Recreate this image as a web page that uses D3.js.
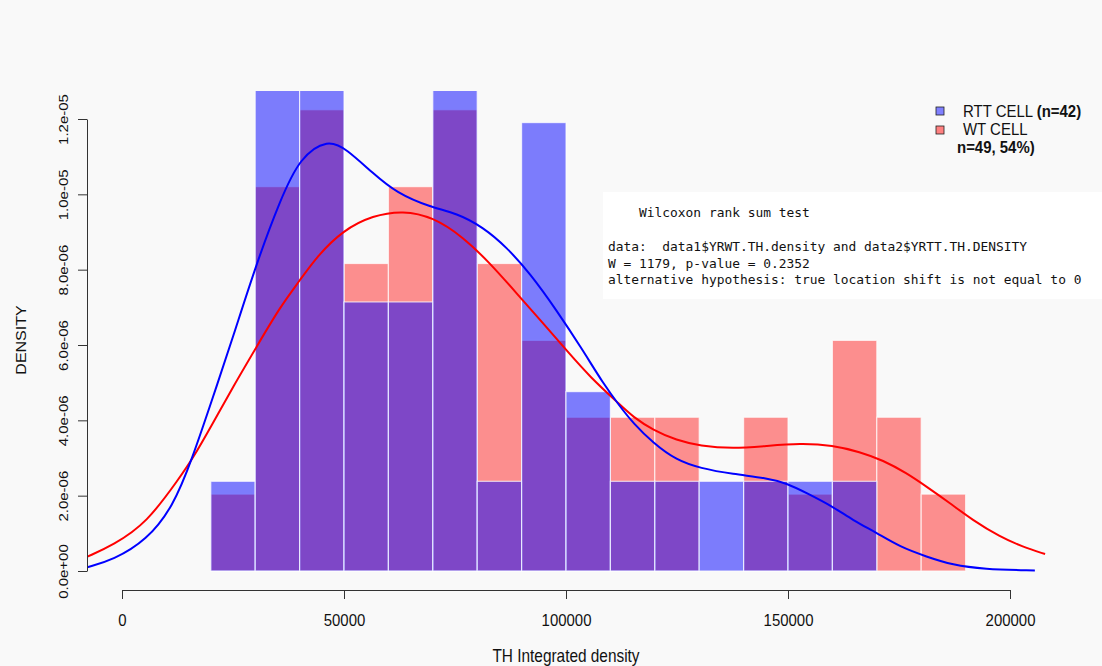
<!DOCTYPE html>
<html>
<head>
<meta charset="utf-8">
<script src="https://cdn.jsdelivr.net/npm/d3@7"></script>
<style>
  body { margin: 0; background: #f9f9f9; }
  svg { display: block; }
</style>
</head>
<body>
<svg id="chart" width="1102" height="666"></svg>
<script>
// ---------------- DATA ----------------
const binStarts = [20000, 30000, 40000, 50000, 60000, 70000, 80000, 90000, 100000,
                   110000, 120000, 130000, 140000, 150000, 160000, 170000, 180000];
const binWidth = 10000;
const rttCounts = [1, 7, 7, 3, 3, 7, 1, 5, 2, 1, 1, 1, 1, 1, 1, 0, 0];   // n = 42
const wtCounts  = [1, 5, 6, 4, 5, 6, 4, 3, 2, 2, 2, 0, 2, 1, 3, 2, 1];   // n = 49
const rttN = 42;
const wtN = 49;

// kernel density curves
const rttCurveX = [-7800, -2000, 5600, 11500, 15700, 20500, 25000, 30300, 35600, 40100,
                   46400, 50600, 56500, 61900, 69400, 75400, 81300, 86600, 91900, 97900,
                   103800, 108300, 112200, 115100, 119600, 124900, 130200, 137600, 145200,
                   149700, 154200, 160100, 164600, 170000, 175200, 181200, 187100, 193900, 205600];
const rttCurveY = [1.0e-7, 2.9e-7, 8.2e-7, 1.71e-6, 2.94e-6, 4.62e-6, 6.21e-6, 8.17e-6, 9.84e-6, 1.099e-5,
                   1.147e-5, 1.12e-5, 1.056e-5, 1.003e-5, 9.66e-6, 9.50e-6, 9.13e-6, 8.60e-6, 7.90e-6, 6.92e-6,
                   5.86e-6, 4.99e-6, 4.36e-6, 3.93e-6, 3.40e-6, 2.94e-6, 2.73e-6, 2.57e-6, 2.47e-6,
                   2.33e-6, 2.07e-6, 1.71e-6, 1.35e-6, 1.01e-6, 6.4e-7, 3.8e-7, 1.6e-7, 5e-8, 1e-8];
const wtCurveX = [-7800, -2000, 5600, 13100, 15700, 20500, 25000, 30300, 35600, 40100,
                  43800, 49800, 56500, 63300, 70000, 76800, 82900, 88900, 94800, 100100,
                  105400, 112200, 115100, 119600, 124900, 130200, 137600, 145200, 152700,
                  160100, 166200, 171400, 176700, 181200, 186500, 191600, 197700, 202900, 207900];
const wtCurveY = [3.8e-7, 6.9e-7, 1.27e-6, 2.50e-6, 2.94e-6, 3.93e-6, 4.89e-6, 5.95e-6, 7.01e-6, 7.72e-6,
                  8.34e-6, 9.05e-6, 9.44e-6, 9.57e-6, 9.40e-6, 8.87e-6, 8.17e-6, 7.37e-6, 6.58e-6, 5.86e-6,
                  5.15e-6, 4.41e-6, 4.09e-6, 3.74e-6, 3.47e-6, 3.32e-6, 3.25e-6, 3.32e-6, 3.39e-6,
                  3.34e-6, 3.16e-6, 2.94e-6, 2.60e-6, 2.24e-6, 1.80e-6, 1.35e-6, 9.1e-7, 6.4e-7, 4.5e-7];

const xTicks = [0, 50000, 100000, 150000, 200000];
const xTickLabels = ["0", "50000", "100000", "150000", "200000"];
const yTicks = [0, 2e-6, 4e-6, 6e-6, 8e-6, 1e-5, 1.2e-5];
const yTickLabels = ["0.0e+00", "2.0e-06", "4.0e-06", "6.0e-06", "8.0e-06", "1.0e-05", "1.2e-05"];
const xTitle = "TH Integrated density";
const yTitle = "DENSITY";
const testLines = [
  "    Wilcoxon rank sum test",
  "",
  "data:  data1$YRWT.TH.density and data2$YRTT.TH.DENSITY",
  "W = 1179, p-value = 0.2352",
  "alternative hypothesis: true location shift is not equal to 0"
];

// ---------------- CHART ----------------
const svg = d3.select("#chart");
const x = d3.scaleLinear().domain([0, 200000]).range([122, 1010]);
const y = d3.scaleLinear().domain([0, 1.2e-5]).range([571, 119]);

svg.append("rect").attr("width", 1102).attr("height", 666).attr("fill", "#f9f9f9");

svg.append("defs").append("clipPath").attr("id", "plotclip")
  .append("rect").attr("x", 87).attr("y", 91).attr("width", 975).attr("height", 490);

const plot = svg.append("g").attr("clip-path", "url(#plotclip)");

function bars(counts, n, fill, op) {
  const data = binStarts.map((s, i) => ({ s, d: counts[i] / (n * binWidth) })).filter(e => e.d > 0);
  plot.append("g").selectAll("rect").data(data).join("rect")
    .attr("x", e => x(e.s))
    .attr("width", e => x(e.s + binWidth) - x(e.s))
    .attr("y", e => y(e.d))
    .attr("height", e => y(0) - y(e.d))
    .attr("fill", fill)
    .attr("fill-opacity", op)
    .attr("stroke", "#ffffff")
    .attr("stroke-opacity", 0.7)
    .attr("stroke-width", 1.2);
}
bars(wtCounts, wtN, "rgb(255,0,0)", 0.43);
bars(rttCounts, rttN, "rgb(0,0,255)", 0.5);

const line = d3.line().x(d => x(d[0])).y(d => y(d[1])).curve(d3.curveBasis);
plot.append("path").datum(wtCurveX.map((v, i) => [v, wtCurveY[i]]))
  .attr("d", line).attr("fill", "none").attr("stroke", "#ff0000").attr("stroke-width", 2);
plot.append("path").datum(rttCurveX.map((v, i) => [v, rttCurveY[i]]))
  .attr("d", line).attr("fill", "none").attr("stroke", "#0000ff").attr("stroke-width", 2);

// X axis
const xAxis = svg.append("g").attr("transform", "translate(0,590)")
  .call(d3.axisBottom(x).tickValues(xTicks).tickFormat((d, i) => xTickLabels[i]).tickSize(9).tickSizeOuter(0));
xAxis.select(".domain").attr("stroke", "#333");
xAxis.selectAll(".tick line").attr("stroke", "#333");
xAxis.selectAll(".tick text")
  .attr("y", 36).attr("dy", 0)
  .attr("font-family", "Liberation Sans, Arial, sans-serif")
  .attr("font-size", 17).attr("fill", "#111")
  .attr("transform", "scale(0.88,1)");

// Y axis
const yAxis = svg.append("g").attr("transform", "translate(87,0)")
  .call(d3.axisLeft(y).tickValues(yTicks).tickFormat((d, i) => yTickLabels[i]).tickSize(9).tickSizeOuter(0));
yAxis.select(".domain").attr("stroke", "#333");
yAxis.selectAll(".tick line").attr("stroke", "#333");
yAxis.selectAll(".tick text")
  .attr("x", 0).attr("dy", 0)
  .attr("text-anchor", "middle")
  .attr("font-family", "Liberation Sans, Arial, sans-serif")
  .attr("font-size", 15).attr("fill", "#111")
  .attr("transform", "translate(-19,0) rotate(-90) scale(1,0.88)");

// Titles
svg.append("text")
  .attr("transform", "translate(566,662) scale(0.88,1)")
  .attr("text-anchor", "middle")
  .attr("font-family", "Liberation Sans, Arial, sans-serif")
  .attr("font-size", 17.5).attr("fill", "#111")
  .text(xTitle);
svg.append("text")
  .attr("transform", "translate(26,340) rotate(-90) scale(1,0.88)")
  .attr("text-anchor", "middle")
  .attr("font-family", "Liberation Sans, Arial, sans-serif")
  .attr("font-size", 16).attr("fill", "#111")
  .text(yTitle);

// Legend
const leg = svg.append("g");
leg.append("rect").attr("x", 936).attr("y", 107).attr("width", 8).attr("height", 8)
  .attr("fill", "#8080ff").attr("stroke", "#222").attr("stroke-width", 0.8);
leg.append("rect").attr("x", 936).attr("y", 126).attr("width", 8).attr("height", 8)
  .attr("fill", "#ff8080").attr("stroke", "#222").attr("stroke-width", 0.8);
const t1 = leg.append("text").attr("transform", "translate(963,117) scale(0.88,1)")
  .attr("font-family", "Liberation Sans, Arial, sans-serif").attr("font-size", 17).attr("fill", "#111");
t1.append("tspan").text("RTT CELL ");
t1.append("tspan").attr("font-weight", "bold").text("(n=42)");
leg.append("text").attr("transform", "translate(963,135) scale(0.88,1)")
  .attr("font-family", "Liberation Sans, Arial, sans-serif").attr("font-size", 17).attr("fill", "#111")
  .text("WT CELL");
leg.append("text").attr("transform", "translate(957,153) scale(0.88,1)")
  .attr("font-family", "Liberation Sans, Arial, sans-serif").attr("font-size", 17)
  .attr("font-weight", "bold").attr("fill", "#111")
  .text("n=49, 54%)");

// Test result box
svg.append("rect").attr("x", 603).attr("y", 192).attr("width", 499).attr("height", 107).attr("fill", "#ffffff");
const baselines = [217, 234, 251, 268, 284];
svg.append("g").selectAll("text").data(testLines).join("text")
  .attr("x", 608).attr("y", (d, i) => baselines[i])
  .attr("font-family", "DejaVu Sans Mono, monospace")
  .attr("font-size", 12.9).attr("fill", "#111")
  .attr("xml:space", "preserve")
  .style("white-space", "pre")
  .text(d => d);
</script>
</body>
</html>
